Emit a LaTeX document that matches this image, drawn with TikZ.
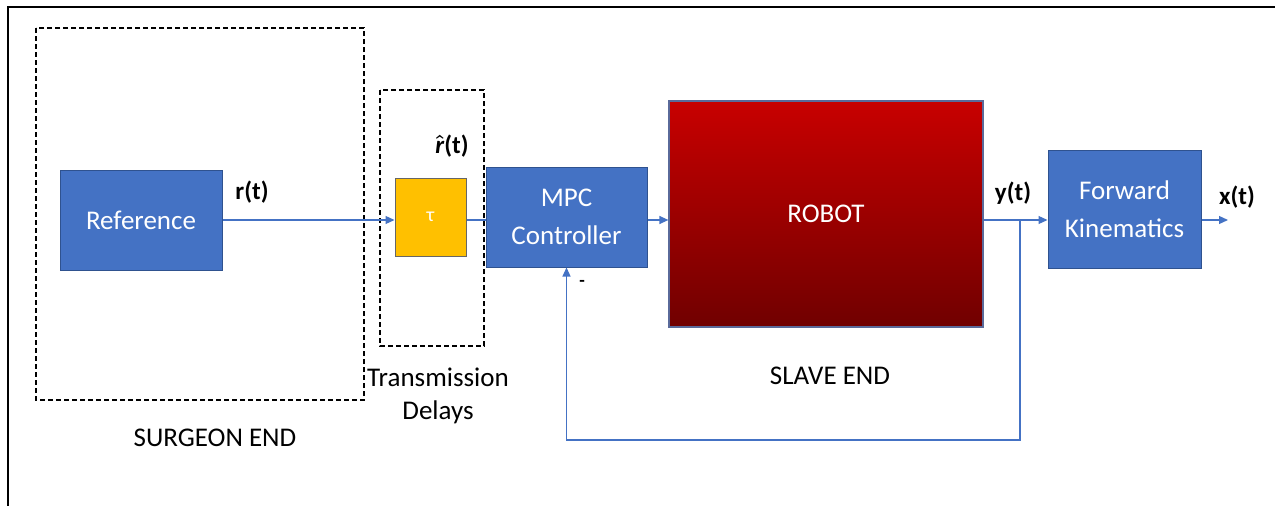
\documentclass[tikz,border=0pt]{standalone}
\usepackage{fontspec}
\setmainfont{Carlito}
\usetikzlibrary{arrows.meta}
\definecolor{boxblue}{HTML}{4472C4}
\definecolor{boxedge}{HTML}{2F528F}
\definecolor{delaygold}{HTML}{FFC000}
\definecolor{robottop}{HTML}{C80000}
\definecolor{robotbot}{HTML}{700000}
\definecolor{robotedge}{HTML}{5A6A9A}
\newcommand{\rhatsym}{\mbox{\mathversion{bold}$\hat{\mbox{\bfseries\itshape r}}$}}
\tikzset{
  block/.style={draw=boxedge, line width=1pt, fill=boxblue, text=white,
    font=\fontsize{27}{38}\selectfont, align=center, inner sep=0pt},
  conn/.style={draw=boxblue, line width=1.2pt},
  flow/.style={conn, -{Triangle[length=9pt,width=8pt]}},
  sig/.style={font=\bfseries\fontsize{25}{28}\selectfont},
  caption/.style={font=\fontsize{27}{33}\selectfont, align=center},
  groupbox/.style={draw=black, line width=1.6pt, dash pattern=on 5pt off 3pt}
}
\begin{document}
\begin{tikzpicture}[x=1pt,y=-1pt]
\useasboundingbox (0,0) rectangle (1275,506);
% frame
\draw[line width=2.5pt] (8,506) -- (8,7) -- (1275,7);

% group outlines
\draw[groupbox] (36,28) rectangle (364,400);
\draw[groupbox] (380,90) rectangle (484,346);

% blocks
\node[block, minimum width=162pt, minimum height=100pt] (ref) at (141,220) {Reference};
\node[block, fill=delaygold, draw=black!60, minimum width=71pt, minimum height=78pt,
      font=\fontsize{20}{24}\selectfont] (tau) at (430.5,217) {τ};
\node[block, minimum width=161pt, minimum height=100pt] (mpc) at (566.5,217) {MPC\\Controller};
\node[draw=robotedge, line width=1.2pt, top color=robottop, bottom color=robotbot,
      text=white, font=\fontsize{27}{30}\selectfont,
      minimum width=314pt, minimum height=226pt, inner sep=0pt] (robot) at (826,214) {ROBOT};
\node[block, minimum width=153pt, minimum height=118pt] (fk) at (1124.5,209) {Forward\\Kinematics};

% signal axis and branch points
\coordinate (axis) at (0,220);
\coordinate (split) at (1020,220);
\coordinate (ret) at (1020,440);
\coordinate (out) at (1228,220);

% connectors
\draw[flow] (ref.east |- axis) -- (tau.west |- axis);
\draw[conn] (tau.east |- axis) -- (mpc.west |- axis);
\draw[flow] (mpc.east |- axis) -- (robot.west |- axis);
\draw[flow] (robot.east |- axis) -- (fk.west |- axis);
\draw[flow] (fk.east |- axis) -- (out);
\draw[flow] (split) -- (ret) -| (mpc.south);

% signal labels
\node[sig] (rt) at (252,192) {r(t)};
\node[sig, inner sep=1pt] (rhat) at (452,146) {\rhatsym(t)};
\node[sig] (yt) at (1013,193) {y(t)};
\node[sig] (xt) at (1237,197) {x(t)};
\node[sig, font=\bfseries\fontsize{18}{20}\selectfont] (minus) at (582,283) {-};

% captions
\node[caption] (slave) at (830,376) {SLAVE END};
\node[caption] (surgeon) at (215,438) {SURGEON END};
\node[caption] (delay) at (438,396) {Transmission\\Delays};
\end{tikzpicture}
\end{document}
